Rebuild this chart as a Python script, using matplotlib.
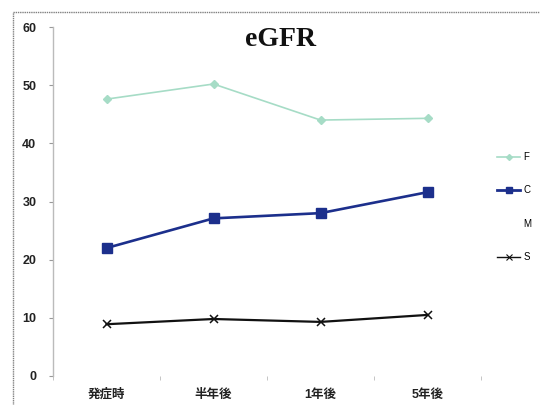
import matplotlib
matplotlib.use("Agg")
import matplotlib.pyplot as plt
from matplotlib.lines import Line2D
from matplotlib.patches import Rectangle

categories = ["発症時", "半年後", "1年後", "5年後"]
series_names = ["F", "C", "M", "S"]
f_values = [47.6, 50.2, 44.0, 44.3]
c_values = [22.0, 27.1, 28.0, 31.6]
s_values = [8.9, 9.8, 9.3, 10.5]
y_ticks = [0, 10, 20, 30, 40, 50, 60]
title = "eGFR"

plt.rcParams["font.family"] = ["Liberation Sans", "Noto Sans CJK JP", "DejaVu Sans"]

W, H = 540, 405
fig = plt.figure(figsize=(W / 100, H / 100), dpi=100)
fig.patch.set_facecolor("white")

# outer chart frame
fig.patches.append(Rectangle((13 / W, -0.05), 1.2, 1 - 12 / H + 0.05,
                             transform=fig.transFigure, fill=False,
                             edgecolor="#808080", linewidth=1.0,
                             linestyle=(0, (1, 0.6))))

ax = fig.add_axes([53 / W, 1 - 376 / H, (481 - 53) / W, (376 - 27) / H])
x = list(range(len(categories)))

ax.plot(x, f_values, color="#a6dcc6", linewidth=1.2, marker="D",
        markersize=4.5, label=series_names[0])
ax.plot(x, c_values, color="#1c2f8c", linewidth=1.9, marker="s",
        markersize=6.5, label=series_names[1])
ax.plot(x, s_values, color="#111111", linewidth=1.6, marker="x",
        markersize=6, markeredgewidth=1.1, label=series_names[3])

ax.set_xlim(-0.5, len(categories) - 0.5)
ax.set_ylim(y_ticks[0], y_ticks[-1])
ax.set_yticks(y_ticks)
ax.set_yticklabels([str(v) for v in y_ticks], fontsize=9, fontweight="bold",
                   color="#222222")
ax.set_xticks(x)
ax.set_xticklabels(categories, fontsize=9, fontweight="bold", color="#222222")
ax.set_xticks([i - 0.5 for i in range(len(categories) + 1)], minor=True)
ax.tick_params(axis="x", which="major", length=0, pad=9)
ax.tick_params(axis="x", which="minor", length=3, color="#bbbbbb")
ax.tick_params(axis="y", length=3, color="#999999", pad=9)

for side in ("top", "right", "bottom"):
    ax.spines[side].set_visible(False)
ax.spines["left"].set_color("#bbbbbb")
ax.spines["left"].set_linewidth(1.0)

fig.text(281 / W, 1 - 40 / H, title, ha="center", va="center",
         fontsize=20, fontweight="bold", family="Liberation Serif",
         color="#111111")

handles = [
    Line2D([], [], color="#a6dcc6", linewidth=1.2, marker="D", markersize=3),
    Line2D([], [], color="#1c2f8c", linewidth=2.0, marker="s", markersize=4),
    Line2D([], [], color="none"),
    Line2D([], [], color="#111111", linewidth=1.0, marker="x", markersize=4,
           markeredgewidth=0.8),
]
fig.legend(handles, series_names, loc="center left",
           bbox_to_anchor=(492 / W, 1 - 207 / H), frameon=False,
           fontsize=7, handlelength=2.4, handletextpad=0.35,
           labelspacing=2.4, borderpad=0)

fig.savefig("out.png", dpi=100)
